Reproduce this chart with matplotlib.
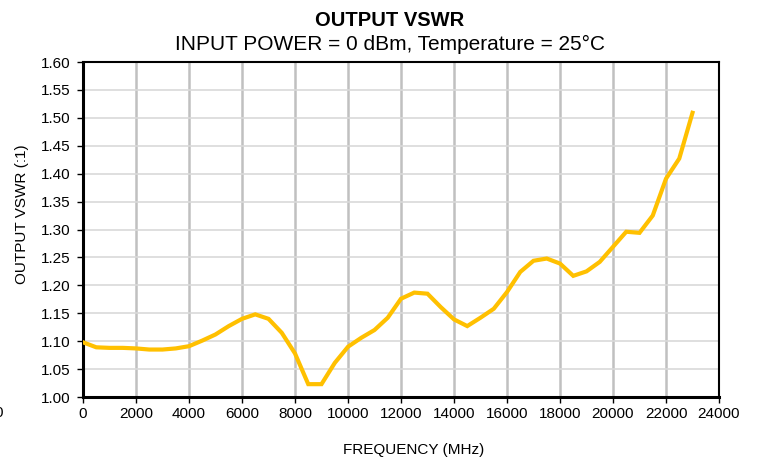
import numpy as np
import matplotlib
matplotlib.use('Agg')
import matplotlib.pyplot as plt

# data (500 MHz steps)
freq_mhz = np.arange(0, 23001, 500)
vswr = [1.098, 1.089, 1.088, 1.088, 1.087, 1.085, 1.085, 1.087, 1.091, 1.101,
        1.112, 1.127, 1.140, 1.148, 1.140, 1.115, 1.078, 1.023, 1.023, 1.061,
        1.090, 1.106, 1.120, 1.142, 1.176, 1.187, 1.185, 1.161, 1.139, 1.127,
        1.142, 1.158, 1.188, 1.224, 1.244, 1.248, 1.239, 1.217, 1.225, 1.242,
        1.269, 1.296, 1.294, 1.325, 1.391, 1.427, 1.509]
x_ticks = np.arange(0, 24001, 2000)
y_ticks = np.arange(1.00, 1.601, 0.05)

plt.rcParams['font.family'] = ['Liberation Sans', 'DejaVu Sans']

fig = plt.figure(figsize=(7.59, 4.61), dpi=100)
ax = fig.add_axes([83 / 759, 1 - 397 / 461, 636 / 759, 335 / 461])

ax.plot(freq_mhz, vswr, color='#FFC000', linewidth=3, solid_joinstyle='miter', zorder=3)

ax.set_xlim(0, 24000)
ax.set_ylim(1.0, 1.6)
ax.set_xticks(x_ticks)
ax.set_yticks(y_ticks)
ax.set_xticklabels([str(v) for v in x_ticks])
ax.set_yticklabels([f'{v:.2f}' for v in y_ticks])
ax.tick_params(labelsize=11, length=4, width=1, direction='out', colors='black')
ax.tick_params(axis='y', pad=5)

# gridlines: vertical heavier than horizontal
for xv in x_ticks[1:-1]:
    ax.axvline(xv, color='#C0C0C0', linewidth=1.8, zorder=1)
for yv in y_ticks[1:-1]:
    ax.axhline(yv, color='#D9D9D9', linewidth=1.2, zorder=1)

for side in ['left', 'bottom']:
    ax.spines[side].set_linewidth(2.2)
for side in ['top', 'right']:
    ax.spines[side].set_linewidth(1.5)

fig.text(390 / 759, 1 - 20 / 461, 'OUTPUT VSWR', ha='center', va='center',
         fontsize=14.5, fontweight='bold')
fig.text(390 / 759, 1 - 44 / 461, 'INPUT POWER = 0 dBm, Temperature = 25°C',
         ha='center', va='center', fontsize=15)
fig.text(414 / 759, 1 - 450 / 461, 'FREQUENCY (MHz)', ha='center', va='center', fontsize=11)
fig.text(22 / 759, 1 - 214 / 461, 'OUTPUT VSWR (:1)', ha='center', va='center',
         rotation=90, fontsize=11)
fig.text(3 / 759, 1 - 413 / 461, '0', ha='right', va='center', fontsize=11)

fig.savefig('out.png', dpi=100)
